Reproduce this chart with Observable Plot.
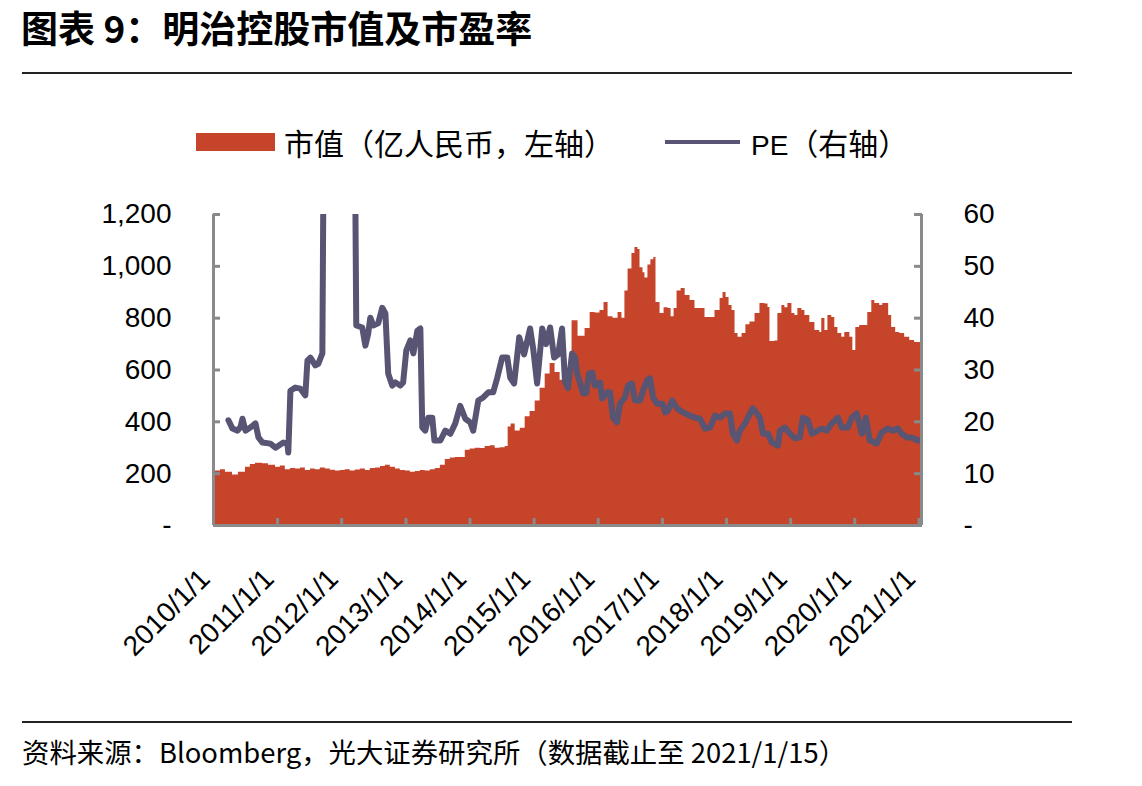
<!DOCTYPE html>
<html><head><meta charset="utf-8">
<script src="https://cdn.jsdelivr.net/npm/d3@7"></script>
<script src="https://cdn.jsdelivr.net/npm/@observablehq/plot@0.6"></script>
<style>
body{margin:0;background:#fff;width:1142px;height:786px;position:relative;overflow:hidden;font-family:"Noto Sans CJK SC","Noto Sans",sans-serif;color:#000;}
#title{position:absolute;left:21px;top:6px;font-size:37px;font-weight:bold;line-height:42px;white-space:nowrap;}
.hr{position:absolute;left:22px;width:1050px;height:2px;background:#222;}
.leg{position:absolute;font-size:30px;line-height:38px;white-space:nowrap;}
.sw{position:absolute;}
#chart{position:absolute;left:0;top:180px;}
#source{position:absolute;left:22px;top:733px;font-size:27.4px;line-height:36px;white-space:nowrap;}
</style></head>
<body>
<div id="title">图表 9：明治控股市值及市盈率</div>
<div class="hr" style="top:72px"></div>
<div class="sw" style="left:196px;top:133px;width:79px;height:18px;background:#C5442A"></div>
<div class="leg" style="left:284px;top:123px">市值（亿人民币，左轴）</div>
<div class="sw" style="left:665px;top:140px;width:75px;height:4px;background:#585473"></div>
<div class="leg" style="left:751px;top:123px"><span style="font-family:'Liberation Sans',Arial,sans-serif;font-size:28px">PE</span>（右轴）</div>
<div id="chart"></div>
<div class="hr" style="top:721px"></div>
<div id="source">资料来源：Bloomberg，光大证券研究所（数据截止至 2021/1/15）</div>
<script>
// 市值（亿人民币）
const mcapDates = ["2010-01-01","2010-02-10","2010-03-10","2010-04-19","2010-05-23","2010-07-02","2010-07-30","2010-08-28","2010-10-07","2010-11-10","2010-12-20",
"2011-01-17","2011-02-14","2011-03-15","2011-04-12","2011-05-11","2011-06-08","2011-07-07","2011-08-04","2011-09-01","2011-09-30","2011-10-28","2011-11-26","2011-12-24",
"2012-01-21","2012-02-19","2012-03-18","2012-04-16","2012-05-15","2012-06-12","2012-07-11","2012-08-09","2012-09-06","2012-10-04","2012-11-02","2012-11-30","2012-12-28",
"2013-01-26","2013-02-23","2013-03-24","2013-04-21","2013-05-20","2013-06-17","2013-07-16","2013-08-13","2013-09-11","2013-10-09","2013-11-06","2013-12-05",
"2014-01-02","2014-01-31","2014-02-28","2014-03-28","2014-04-26","2014-05-24","2014-06-22","2014-07-20","2014-08-06","2014-08-23","2014-09-15","2014-10-14","2014-11-11","2014-12-09",
"2015-01-07","2015-02-04","2015-03-05","2015-04-02","2015-04-30","2015-05-29","2015-06-26","2015-07-25","2015-08-05","2015-09-08","2015-10-18","2015-11-16","2015-12-14",
"2016-01-11","2016-02-03","2016-02-26","2016-03-25","2016-04-23","2016-05-15","2016-06-01","2016-06-19","2016-07-11","2016-07-28","2016-08-14","2016-08-26","2016-09-12","2016-09-23","2016-10-10","2016-10-27","2016-11-13","2016-11-25","2016-12-18",
"2017-01-10","2017-02-02","2017-02-19","2017-03-08","2017-03-25","2017-04-17","2017-05-10","2017-06-07","2017-07-05","2017-08-03","2017-08-31","2017-09-29","2017-10-27","2017-11-25","2017-12-12","2017-12-29",
"2018-01-15","2018-02-01","2018-02-18","2018-03-07","2018-03-30","2018-04-21","2018-05-14","2018-06-12","2018-07-10","2018-08-07","2018-08-25","2018-09-05","2018-10-03","2018-10-20","2018-11-12","2018-11-29","2018-12-16",
"2019-01-08","2019-01-25","2019-02-11","2019-03-06","2019-03-23","2019-04-20","2019-05-19","2019-06-16","2019-06-27","2019-07-15","2019-08-01","2019-08-23","2019-09-09","2019-09-27","2019-10-19","2019-11-05","2019-12-04","2019-12-21",
"2020-01-07","2020-01-29","2020-02-27","2020-03-15","2020-04-07","2020-04-24","2020-05-22","2020-06-08","2020-06-25","2020-07-12","2020-07-29","2020-08-21","2020-09-13","2020-10-11","2020-11-09","2020-12-07","2021-01-15"];
const mcapValues = [210,215,205,195,205,225,235,240,238,232,225,
230,215,220,218,222,212,218,215,222,218,213,210,212,
215,210,214,218,212,220,222,228,232,225,218,212,210,
205,208,212,210,215,220,232,255,260,262,262,290,
295,298,297,305,308,298,300,305,380,392,365,375,420,440,
480,530,585,625,590,560,550,610,790,730,760,822,820,
830,860,805,800,822,800,905,990,1050,1073,1065,995,975,955,1005,1025,1034,860,818,
840,837,805,837,905,914,887,868,837,837,803,803,830,876,899,880,
849,830,741,726,741,775,785,818,857,855,841,710,712,818,849,840,857,
818,810,837,830,810,783,752,745,799,752,810,803,764,741,726,745,726,675,
764,772,772,822,868,857,849,857,857,810,764,745,741,726,714,706,702];

// 市盈率 PE
const peDates = ["2010-03-27","2010-04-19","2010-05-18","2010-06-04","2010-06-15","2010-07-02","2010-07-30","2010-08-28","2010-09-14","2010-10-07","2010-11-21","2010-12-20",
"2011-02-03","2011-02-26","2011-03-03","2011-03-15","2011-04-12","2011-05-11","2011-06-08","2011-06-20","2011-07-07","2011-08-04","2011-08-21","2011-09-13","2011-09-24","2011-10-28","2011-12-24",
"2012-02-19","2012-03-13","2012-03-24","2012-04-27","2012-05-15","2012-05-31","2012-06-12","2012-06-29","2012-07-27","2012-08-19","2012-09-06","2012-09-22","2012-10-15","2012-11-02","2012-11-30","2012-12-16",
"2013-01-03","2013-01-26","2013-02-12","2013-03-07","2013-03-24","2013-04-04","2013-04-21","2013-05-08","2013-05-31","2013-06-12","2013-07-16","2013-08-13","2013-09-11","2013-10-09","2013-11-06","2013-12-05",
"2014-01-02","2014-01-19","2014-02-17","2014-03-17","2014-04-15","2014-05-13","2014-06-05","2014-07-03","2014-08-01","2014-08-18","2014-09-09","2014-10-08","2014-11-05","2014-12-09","2014-12-27",
"2015-01-18","2015-02-16","2015-03-10","2015-04-02","2015-04-25","2015-05-18","2015-06-09","2015-06-26","2015-07-13","2015-08-05","2015-08-22","2015-09-03","2015-09-20","2015-10-07","2015-10-24","2015-11-10","2015-11-27","2015-12-14",
"2016-01-11","2016-01-23","2016-02-20","2016-03-08","2016-03-25","2016-04-17","2016-05-04","2016-06-01","2016-06-19","2016-07-11","2016-07-28","2016-08-26","2016-09-12","2016-10-05","2016-10-22","2016-11-08","2016-12-01",
"2017-01-01","2017-01-16","2017-02-02","2017-02-25","2017-03-25","2017-04-11","2017-05-10","2017-06-07","2017-07-05","2017-08-03","2017-08-31","2017-09-29","2017-10-27","2017-11-25","2017-12-23",
"2018-01-20","2018-02-06","2018-03-01","2018-03-18","2018-04-16","2018-05-14","2018-05-31","2018-06-23","2018-07-10","2018-07-27","2018-08-25","2018-09-16","2018-10-20","2018-11-01","2018-11-29","2018-12-28",
"2019-01-25","2019-02-22","2019-03-11","2019-04-09","2019-05-02","2019-06-05","2019-06-27","2019-07-26","2019-08-23","2019-09-27","2019-10-19","2019-11-22","2019-12-15",
"2020-01-12","2020-02-10","2020-03-04","2020-03-26","2020-05-05","2020-06-03","2020-07-07","2020-08-04","2020-09-02","2020-09-24","2020-10-23","2020-11-20","2020-12-24","2021-01-15"];
const peValues = [20.3,18.7,18.3,19,20.6,18.3,18.9,19.7,17,16,15.8,15,
16,15.8,14.1,26,26.6,26.4,25.1,31.8,32.4,30.9,31.2,33.2,95,110,100,
95,90,38.6,38.2,34.7,37,40.1,38.6,39,42,40.9,29.3,27,27.6,27,27.6,
33.8,35.7,33.2,37.6,38,18.9,18.3,20.8,20.8,16.4,16.4,18.3,17.7,19.7,23.1,20.6,
19.9,18.3,24.1,24.7,25.7,25.7,28.5,32.4,32.4,28.5,27.4,36.3,33,38,34,
27.4,38,35,38.2,32.4,33,38,27.6,26.5,33.2,32.4,29.3,27.4,25.5,25.5,29.3,29.5,27,
27.6,24.5,25.7,25.7,20.8,19.9,23.5,24.7,27,27.4,24.1,24.1,26,28,28.4,24.7,23.5,
23.5,21.8,22.2,24.1,22.6,22.2,21.6,21.2,20.8,20.6,18.7,18.9,21.2,20.8,21.6,
21.6,17.7,16.4,18.3,19.7,21.6,22.6,21.6,20.8,17.7,17.7,16,15.4,18.3,18.9,17.7,
16.8,17,20.8,20.3,17.7,18.3,18.7,18.3,19.7,20.8,18.9,18.9,20.8,
21.6,17.7,20.8,16.4,15.8,18,18.7,18.3,18.7,17.7,17,17,16.4,16.5];

const xTickDates = ["2010-01-01","2011-01-01","2012-01-01","2013-01-01","2014-01-01","2015-01-01","2016-01-01","2017-01-01","2018-01-01","2019-01-01","2020-01-01","2021-01-01"];
const xTickLabels = ["2010/1/1","2011/1/1","2012/1/1","2013/1/1","2014/1/1","2015/1/1","2016/1/1","2017/1/1","2018/1/1","2019/1/1","2020/1/1","2021/1/1"];
const leftTicks = [0,200,400,600,800,1000,1200];
const rightTicks = [0,10,20,30,40,50,60];
const xDomain = ["2010-01-01","2021-01-15"];

const peFactor = 1200 / 60; // right axis maps onto left axis
const mcap = mcapDates.map((d,i)=>({date:new Date(d), value:mcapValues[i]}));
const pe = peDates.map((d,i)=>({date:new Date(d), value:peValues[i]}));
const xt = xTickDates.map((d,i)=>({date:new Date(d), label:xTickLabels[i]}));
const x0 = new Date(xDomain[0]), x1 = new Date(xDomain[1]);
const gray = "#8a8a8a";
const numFont = "'Liberation Sans', Arial, sans-serif";

const chart = Plot.plot({
  width:1142, height:530,
  marginLeft:213, marginRight:221, marginTop:34, marginBottom:185,
  x:{type:"utc", domain:[x0,x1]},
  y:{domain:[0,1200]},
  style:{fontFamily:numFont, fontSize:"28px", color:"#000", background:"transparent", overflow:"visible"},
  marks:[
    Plot.areaY(mcap, {x:"date", y:"value", curve:"step-after", fill:"#C5442A"}),
    Plot.lineY(pe, {x:"date", y:d=>d.value*peFactor, stroke:"#585473", strokeWidth:6, strokeLinejoin:"round", strokeLinecap:"round", clip:true}),
    Plot.ruleX([x0], {stroke:gray, strokeWidth:3}),
    Plot.ruleX([x1], {stroke:gray, strokeWidth:3}),
    Plot.ruleY([0], {stroke:gray, strokeWidth:3}),
    Plot.axisY({anchor:"left", ticks:leftTicks, tickSize:-7, tickPadding:49, stroke:gray, strokeWidth:3, label:null,
      tickFormat:d=>d===0?"-":d3.format(",")(d), fontSize:28}),
    Plot.axisY({anchor:"right", ticks:rightTicks.map(v=>v*peFactor), tickSize:-8, tickPadding:50, stroke:gray, strokeWidth:3, label:null,
      tickFormat:d=>d===0?"-":String(d/peFactor), fontSize:28}),
    Plot.axisX({ticks:xt.map(d=>d.date), tickSize:-7, stroke:gray, strokeWidth:3, label:null, tickFormat:()=>""}),
    Plot.text(xt, {x:"date", text:"label", frameAnchor:"bottom", rotate:-45, textAnchor:"end", dx:-2, dy:55, fontSize:28})
  ]
});
document.getElementById("chart").appendChild(chart);
</script>
</body></html>
